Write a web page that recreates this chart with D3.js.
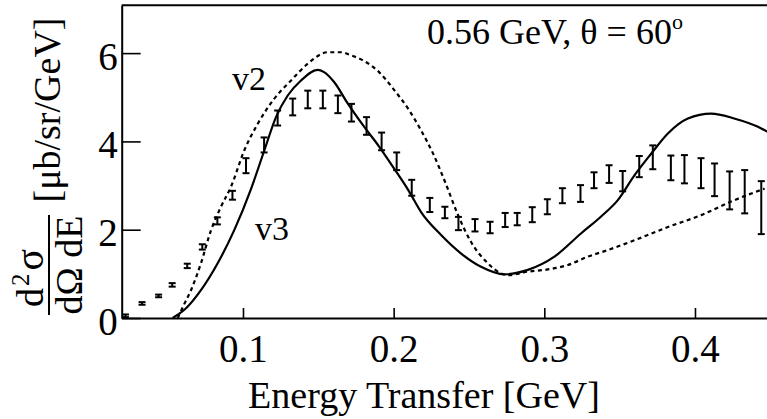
<!DOCTYPE html>
<html><head><meta charset="utf-8">
<script src="https://cdn.jsdelivr.net/npm/d3@7"></script>
<style>
body{margin:0;background:#fff}
svg{display:block}
text{font-family:"Liberation Serif","Times New Roman",serif;fill:#000}
</style>
</head><body>
<svg id="c" width="767" height="419"></svg>
<script>
// ---- data ----
const dataE   = [0.022,0.033,0.044,0.053,0.063,0.073,0.083,0.093,0.102,0.114,0.123,0.133,0.143,0.153,0.163,0.172,0.182,0.192,0.202,0.212,0.224,0.234,0.243,0.254,0.264,0.274,0.282,0.292,0.302,0.312,0.324,0.333,0.343,0.352,0.363,0.372,0.384,0.393,0.404,0.413,0.423,0.433,0.444];
const dataXS  = [0.05,0.33,0.50,0.75,1.18,1.61,2.20,2.78,3.45,3.92,4.53,4.78,4.95,4.95,4.84,4.65,4.35,4.00,3.55,2.95,2.56,2.39,2.14,2.10,2.05,2.22,2.24,2.34,2.52,2.77,2.82,3.12,3.26,3.10,3.43,3.64,3.40,3.37,3.28,3.13,2.89,2.86,2.50];
const dataErr = [0.03,0.03,0.03,0.04,0.05,0.06,0.08,0.10,0.17,0.17,0.17,0.19,0.20,0.20,0.20,0.20,0.20,0.20,0.20,0.18,0.16,0.13,0.15,0.14,0.13,0.16,0.14,0.17,0.17,0.17,0.19,0.18,0.20,0.23,0.24,0.27,0.28,0.32,0.34,0.37,0.43,0.49,0.60];

const v3E  = [0.0533,0.0622,0.0721,0.0832,0.0942,0.1053,0.1142,0.1219,0.1297,0.1385,0.1496,0.1538,0.1606,0.1695,0.18,0.19,0.20,0.21,0.2182,0.2315,0.2448,0.258,0.2735,0.2891,0.3067,0.3245,0.3377,0.3488,0.3598,0.3709,0.382,0.3953,0.4108,0.426,0.4418,0.4486];
const v3XS = [0,0.22,0.63,1.24,1.99,2.92,3.80,4.55,5.04,5.38,5.62,5.57,5.34,4.86,4.35,3.90,3.40,2.88,2.40,1.88,1.46,1.16,0.99,1.09,1.39,1.92,2.30,2.67,3.23,3.72,4.18,4.52,4.63,4.52,4.33,4.21];

const v2E  = [0.0567,0.0608,0.0655,0.0721,0.0788,0.0854,0.092,0.1009,0.1098,0.1208,0.1319,0.143,0.1563,0.1651,0.1717,0.18,0.19,0.20,0.21,0.2182,0.2265,0.2345,0.2425,0.2514,0.2625,0.2713,0.2758,0.2891,0.3023,0.3156,0.3289,0.3422,0.3598,0.382,0.4041,0.4262,0.4462];
const v2XS = [0,0.3,0.63,1.24,1.99,2.52,2.97,3.80,4.40,4.97,5.38,5.76,6.02,6.02,5.95,5.83,5.58,5.18,4.72,4.25,3.70,3.05,2.35,1.72,1.24,1.01,0.97,1.05,1.10,1.20,1.39,1.54,1.76,2.06,2.33,2.67,2.93];

const xTicks = [0.1,0.2,0.3,0.4];
const xTickLabels = ["0.1","0.2","0.3","0.4"];
const yTicks = [0,2,4,6];
const yTickLabels = ["0","2","4","6"];
const titleText = "0.56 GeV, θ = 60";
const xTitle = "Energy Transfer [GeV]";

// ---- drawing ----
const svg = d3.select("#c");
const x = d3.scaleLinear().domain([0.0195,0.448]).range([121.7,767.3]);
const y = d3.scaleLinear().domain([0,7.083]).range([318,5.3]);

// frame top
svg.append("line").attr("x1",x.range()[0]).attr("x2",767).attr("y1",y.range()[1]).attr("y2",y.range()[1])
  .attr("stroke","#000").attr("stroke-width",2);

const gx = svg.append("g").attr("transform",`translate(0,${y(0)})`)
  .call(d3.axisBottom(x).tickValues(xTicks).tickFormat((d,i)=>xTickLabels[i]).tickSizeInner(-10).tickSizeOuter(0));
const gy = svg.append("g").attr("transform",`translate(${x.range()[0]},0)`)
  .call(d3.axisLeft(y).tickValues(yTicks).tickFormat((d,i)=>yTickLabels[i]).tickSizeInner(-19).tickSizeOuter(0));
[gx,gy].forEach(g=>{
  g.attr("font-family",null).attr("font-size",null);
  g.selectAll("path.domain").attr("stroke","#000").attr("stroke-width",2);
  g.selectAll(".tick line").attr("stroke","#000").attr("stroke-width",1.6);
  g.selectAll(".tick text").style("font-size","39px").attr("fill","#000");
});
gx.selectAll(".tick text").attr("y",44).attr("dy",null);
gy.selectAll(".tick text").attr("x",-4).attr("dy",null).attr("y",16);

// model curves
const lineGen = d3.line().x(d=>x(d[0])).y(d=>y(d[1])).curve(d3.curveMonotoneX);
svg.append("path").datum(v3E.map((e,i)=>[e,v3XS[i]]))
  .attr("d",lineGen).attr("fill","none").attr("stroke","#000").attr("stroke-width",2.2);
svg.append("path").datum(v2E.map((e,i)=>[e,v2XS[i]]))
  .attr("d",lineGen).attr("fill","none").attr("stroke","#000").attr("stroke-width",2.2)
  .attr("stroke-dasharray","4,3.5");

// data error bars
const pts = dataE.map((e,i)=>({e, v:dataXS[i], err:dataErr[i]}));
const gb = svg.append("g").attr("stroke","#000").attr("stroke-width",2);
const cap = 3.5;
pts.forEach(p=>{
  const cx = x(p.e), y1 = y(p.v+p.err), y2 = y(p.v-p.err);
  gb.append("line").attr("x1",cx).attr("x2",cx).attr("y1",y1).attr("y2",y2);
  gb.append("line").attr("x1",cx-cap).attr("x2",cx+cap).attr("y1",y1).attr("y2",y1);
  gb.append("line").attr("x1",cx-cap).attr("x2",cx+cap).attr("y1",y2).attr("y2",y2);
});

// texts
const t = svg.append("text").attr("x",427).attr("y",43.5).style("font-size","36px").text(titleText);
t.append("tspan").attr("dy",-15).style("font-size","22px").text("o");

svg.append("text").attr("x",232).attr("y",90).style("font-size","34px").text("v2");
svg.append("text").attr("x",255).attr("y",240).style("font-size","34px").text("v3");

svg.append("text").attr("x",424).attr("y",408).attr("text-anchor","middle").style("font-size","38px").text(xTitle);

// y title
svg.append("text").attr("transform","translate(60,110) rotate(-90)").attr("text-anchor","middle")
  .style("font-size","38px").text("[μb/sr/GeV]");
const num = svg.append("text").attr("transform","translate(43,278) rotate(-90)").attr("text-anchor","middle")
  .style("font-size","38px");
num.append("tspan").text("d");
num.append("tspan").attr("dy",-14).attr("dx",2).style("font-size","25px").text("2");
num.append("tspan").attr("dy",14).attr("dx",3).style("font-size","40px").text("σ");
svg.append("line").attr("x1",49).attr("x2",49).attr("y1",215).attr("y2",315).attr("stroke","#000").attr("stroke-width",2);
svg.append("text").attr("transform","translate(82,265) rotate(-90)").attr("text-anchor","middle")
  .style("font-size","38px").text("dΩ dE");
</script>
</body></html>
